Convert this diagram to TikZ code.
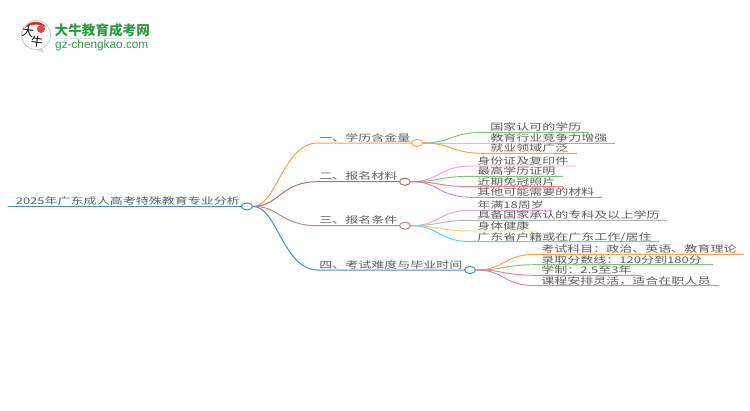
\documentclass[tikz,border=0pt]{standalone}
\usepackage{fontspec}
\setmainfont{Noto Sans CJK SC}
\newfontfamily\latinf{Liberation Sans}
\definecolor{orangeL}{HTML}{FF9F45}
\definecolor{brownL}{HTML}{A8736C}
\definecolor{brownM}{HTML}{B58C82}
\definecolor{blueL}{HTML}{3F8FCB}
\definecolor{blueP}{HTML}{7FB4DC}
\definecolor{greenL}{HTML}{7CC47C}
\definecolor{pinkL}{HTML}{EDA0DC}
\definecolor{redL}{HTML}{F07F7F}
\definecolor{purpleL}{HTML}{B98CDC}
\definecolor{grayL}{HTML}{B4B4B4}
\definecolor{yellowL}{HTML}{DDD87A}
\definecolor{cyanL}{HTML}{55D5E0}
\definecolor{logoG}{HTML}{2E9A46}
\definecolor{logoR}{HTML}{C8302A}
\tikzset{
  lab/.style={anchor=base west,inner sep=0pt,text=black!64,font=\fontsize{9.2}{10}\selectfont,xscale=1.415,transform shape},
  hub/.style={ellipse,draw=#1,fill=white,line width=1pt,minimum width=11pt,minimum height=7pt,inner sep=0pt},
  wire/.style={line width=1pt,draw=#1,line cap=round},
  kid/.style={line width=.95pt,draw=#1}
}
\usetikzlibrary{shapes.geometric}
\begin{document}
\begin{tikzpicture}[x=1pt,y=-1pt]
\useasboundingbox (0,0) rectangle (750,410);
% logo
\fill[gray!30] (27,46) -- (44,53) -- (40,44) -- cycle;
\node[circle,draw=black!22,fill=white,line width=.8pt,minimum size=29pt,inner sep=0pt] (bubble) at (36,35) {};
\fill[logoR] (25,28) .. controls (28,20) and (42,20) .. (46,27) .. controls (40,23.5) and (31,23.5) .. (25,28) -- cycle;
\node[circle,fill=logoR!85,minimum size=8pt,inner sep=0pt] (seal) at (41,29) {};
\node[inner sep=0pt,font=\fontsize{12}{12}\selectfont,rotate=-8] (da) at (28,32) {大};
\node[inner sep=0pt,font=\fontsize{12}{12}\selectfont,rotate=-8] (niu) at (37,42) {牛};
\node[anchor=base west,inner sep=0pt,text=logoG,font=\fontsize{13.6}{14}\bfseries\selectfont] (brand) at (54.5,35) {大牛教育成考网};
\node[anchor=base west,inner sep=0pt,text=logoG,font=\fontsize{11.8}{12}\latinf\selectfont] (site) at (55,48) {gz-chengkao.com};
\draw[black!12,line width=.6pt] (brand.south west) ++(0,2) coordinate (ruleA) -- (ruleA -| brand.south east);
% root
\node[hub=blueL] (root) at (247,206.5) {};
\coordinate (rootS) at (8,206.5);
\draw[wire=blueL] (rootS) -- (root.west);
\node[lab] (rootT) at (15.5,204.7) {2025年广东成人高考特殊教育专业分析};
% branches
\node[hub=orangeL] (h1) at (417,143) {};
\node[hub=brownL] (h2) at (405,181.7) {};
\node[hub=brownM] (h3) at (405,225.7) {};
\node[hub=blueL] (h4) at (470,270) {};
\coordinate (b1) at (318,143);
\coordinate (b2) at (318,181.7);
\coordinate (b3) at (318,225.7);
\coordinate (b4) at (318,270);
\draw[wire=orangeL] (root.east) .. controls (277,206) and (283,143) .. (b1) -- (h1.west);
\draw[wire=brownL] (root.east) .. controls (280,206) and (280,181.7) .. (b2) -- (h2.west);
\draw[wire=brownM] (root.east) .. controls (280,206) and (280,225.7) .. (b3) -- (h3.west);
\draw[wire=blueL] (root.east) .. controls (277,206) and (283,270) .. (b4) -- (h4.west);
\node[lab] (t1) at (319,141.2) {一、学历含金量};
\node[lab] (t2) at (319,179.9) {二、报名材料};
\node[lab] (t3) at (319,223.9) {三、报名条件};
\node[lab] (t4) at (319,268.2) {四、考试难度与毕业时间};
% leaves of branch 1
\foreach \n/\y/\xe/\c/\t in {
 a/132.3/589/greenL/国家认可的学历,
 b/143/615/blueP/教育行业竞争力增强,
 c/153.3/577/orangeL/就业领域广泛}{
  \coordinate (s\n) at (484,\y);
  \coordinate (e\n) at (\xe,\y);
  \draw[kid=\c] (h1.east) .. controls (452,143) and (450,\y) .. (s\n) -- (e\n);
  \node[lab] (l\n) at (490,\y-1.5) {\t};
}
\foreach \n/\y/\xe/\c/\t in {
 d/166/576/pinkL/身份证及复印件,
 e/176.3/563/greenL/最高学历证明,
 f/186.7/563/redL/近期免冠照片,
 g/197.3/602/purpleL/其他可能需要的材料}{
  \coordinate (s\n) at (472,\y);
  \coordinate (e\n) at (\xe,\y);
  \draw[kid=\c] (h2.east) .. controls (440,181.7) and (438,\y) .. (s\n) -- (e\n);
  \node[lab] (l\n) at (477,\y-1.5) {\t};
}
\foreach \n/\y/\xe/\c/\t in {
 h/210.3/552/pinkL/年满18周岁,
 i/220.3/667/grayL/具备国家承认的专科及以上学历,
 j/231/537/yellowL/身体健康,
 k/241.7/659/cyanL/{广东省户籍或在广东工作/居住}}{
  \coordinate (s\n) at (472,\y);
  \coordinate (e\n) at (\xe,\y);
  \draw[kid=\c] (h3.east) .. controls (440,225.7) and (438,\y) .. (s\n) -- (e\n);
  \node[lab] (l\n) at (477,\y-1.5) {\t};
}
\foreach \n/\y/\xe/\c/\t in {
 m/254.3/744/orangeL/考试科目：政治、英语、教育理论,
 o/264.7/713/greenL/录取分数线：120分到180分,
 p/275.3/641/redL/学制：2.5至3年,
 q/285.7/719/purpleL/课程安排灵活，适合在职人员}{
  \coordinate (s\n) at (536,\y);
  \coordinate (e\n) at (\xe,\y);
  \draw[kid=\c] (h4.east) .. controls (505,270) and (503,\y) .. (s\n) -- (e\n);
  \node[lab] (l\n) at (541,\y-1.5) {\t};
}
\end{tikzpicture}
\end{document}
